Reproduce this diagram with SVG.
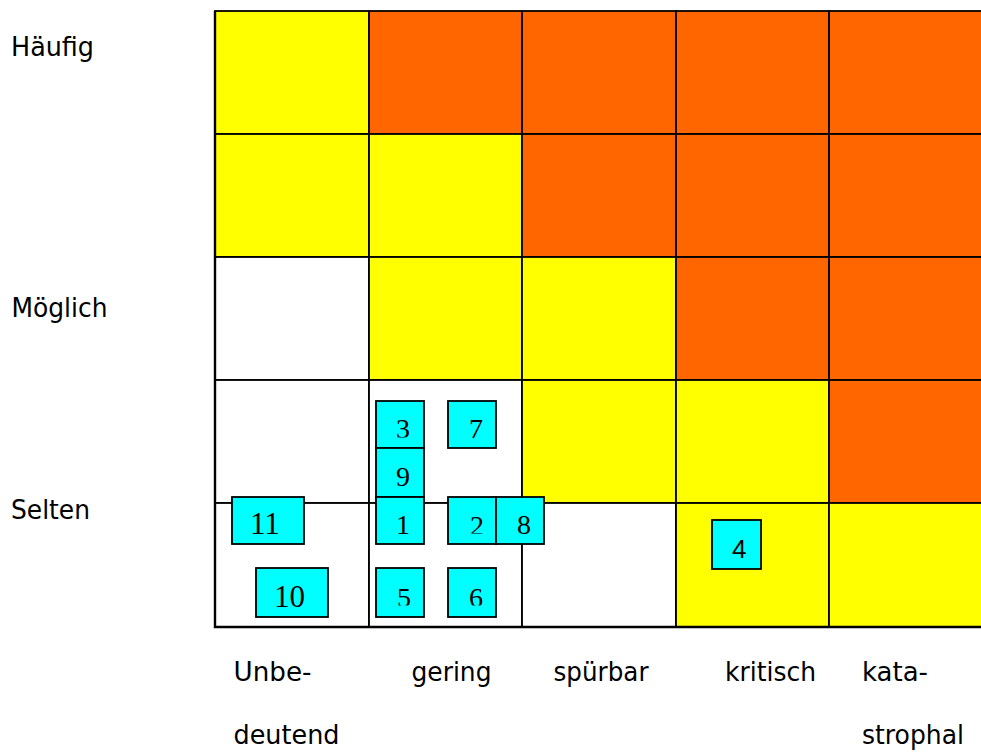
<svg xmlns="http://www.w3.org/2000/svg" width="981" height="754" viewBox="0 0 981 754">
<style>
.lbl{font-family:"DejaVu Sans","Liberation Sans",sans-serif;font-size:26px;fill:#000}
.c{stroke:#000;stroke-width:1.8}
.y{fill:#FFFF00}.o{fill:#FF6600}.w{fill:#FFFFFF}
.box{fill:#00FFFF;stroke:#000;stroke-width:1.8}
.num{font-family:"Liberation Serif","Times New Roman",serif;font-size:28px;fill:#000}
.num2{font-family:"Liberation Serif","Times New Roman",serif;font-size:31px;fill:#000}
</style>
<defs>
<clipPath id="k3"><rect x="376" y="401" width="48" height="36.5"/></clipPath>
<clipPath id="k2"><rect x="448" y="497" width="48" height="36.5"/></clipPath>
<clipPath id="k5"><rect x="376" y="568" width="48" height="37.5"/></clipPath>
<clipPath id="k6"><rect x="448" y="568" width="48" height="37.5"/></clipPath>
</defs>
<rect width="981" height="754" fill="#fff"/>
<g id="grid">
<rect class="c y" x="215" y="11" width="154" height="123"/>
<rect class="c o" x="369" y="11" width="153" height="123"/>
<rect class="c o" x="522" y="11" width="154" height="123"/>
<rect class="c o" x="676" y="11" width="153" height="123"/>
<rect class="c o" x="829" y="11" width="154" height="123"/>
<rect class="c y" x="215" y="134" width="154" height="123"/>
<rect class="c y" x="369" y="134" width="153" height="123"/>
<rect class="c o" x="522" y="134" width="154" height="123"/>
<rect class="c o" x="676" y="134" width="153" height="123"/>
<rect class="c o" x="829" y="134" width="154" height="123"/>
<rect class="c w" x="215" y="257" width="154" height="123"/>
<rect class="c y" x="369" y="257" width="153" height="123"/>
<rect class="c y" x="522" y="257" width="154" height="123"/>
<rect class="c o" x="676" y="257" width="153" height="123"/>
<rect class="c o" x="829" y="257" width="154" height="123"/>
<rect class="c w" x="215" y="380" width="154" height="123"/>
<rect class="c w" x="369" y="380" width="153" height="123"/>
<rect class="c y" x="522" y="380" width="154" height="123"/>
<rect class="c y" x="676" y="380" width="153" height="123"/>
<rect class="c o" x="829" y="380" width="154" height="123"/>
<rect class="c w" x="215" y="503" width="154" height="124"/>
<rect class="c w" x="369" y="503" width="153" height="124"/>
<rect class="c w" x="522" y="503" width="154" height="124"/>
<rect class="c y" x="676" y="503" width="153" height="124"/>
<rect class="c y" x="829" y="503" width="154" height="124"/>
<path d="M215 11V627H983" fill="none" stroke="#000" stroke-width="2.4"/>
</g>
<g id="axis-y">
<text class="lbl" x="11" y="55.5" textLength="83" lengthAdjust="spacingAndGlyphs">Häufig</text>
<text class="lbl" x="11.5" y="317" textLength="96" lengthAdjust="spacingAndGlyphs">Möglich</text>
<text class="lbl" x="11" y="519" textLength="79" lengthAdjust="spacingAndGlyphs">Selten</text>
</g>
<g id="axis-x">
<text class="lbl" x="233.5" y="680.5" textLength="78" lengthAdjust="spacingAndGlyphs">Unbe-</text>
<text class="lbl" x="233.5" y="744" textLength="106" lengthAdjust="spacingAndGlyphs">deutend</text>
<text class="lbl" x="411.5" y="680.5" textLength="80" lengthAdjust="spacingAndGlyphs">gering</text>
<text class="lbl" x="553.5" y="680.5" textLength="95" lengthAdjust="spacingAndGlyphs">spürbar</text>
<text class="lbl" x="725" y="680.5" textLength="91" lengthAdjust="spacingAndGlyphs">kritisch</text>
<text class="lbl" x="862" y="680.5" textLength="66" lengthAdjust="spacingAndGlyphs">kata-</text>
<text class="lbl" x="862" y="744" textLength="102" lengthAdjust="spacingAndGlyphs">strophal</text>
</g>
<g id="connectors"></g>
<g id="n3"><rect class="box" x="376" y="401" width="48" height="47"/><text class="num" x="396" y="438" clip-path="url(#k3)">3</text></g>
<g id="n7"><rect class="box" x="448" y="401" width="48" height="47"/><text class="num" x="469" y="438">7</text></g>
<g id="n9"><rect class="box" x="376" y="448" width="48" height="49"/><text class="num" x="396" y="486">9</text></g>
<g id="n1"><rect class="box" x="376" y="497" width="48" height="47"/><text class="num" x="396" y="534">1</text></g>
<g id="n2"><rect class="box" x="448" y="497" width="48" height="47"/><text class="num" x="470" y="535" clip-path="url(#k2)">2</text></g>
<g id="n8"><rect class="box" x="496" y="497" width="48" height="47"/><text class="num" x="517" y="534">8</text></g>
<g id="n11"><rect class="box" x="232" y="497" width="72" height="47"/><text class="num2" x="250" y="534">11</text></g>
<g id="n10"><rect class="box" x="256" y="568" width="72" height="49"/><text class="num2" x="274" y="607">10</text></g>
<g id="n5"><rect class="box" x="376" y="568" width="48" height="49"/><text class="num" x="397" y="607" clip-path="url(#k5)">5</text></g>
<g id="n6"><rect class="box" x="448" y="568" width="48" height="49"/><text class="num" x="469" y="607" clip-path="url(#k6)">6</text></g>
<g id="n4"><rect class="box" x="712" y="520" width="49" height="49"/><text x="732" y="557.5" style="font-family:'Liberation Sans',Arial,sans-serif;font-size:26px;fill:#000">4</text></g>
</svg>
